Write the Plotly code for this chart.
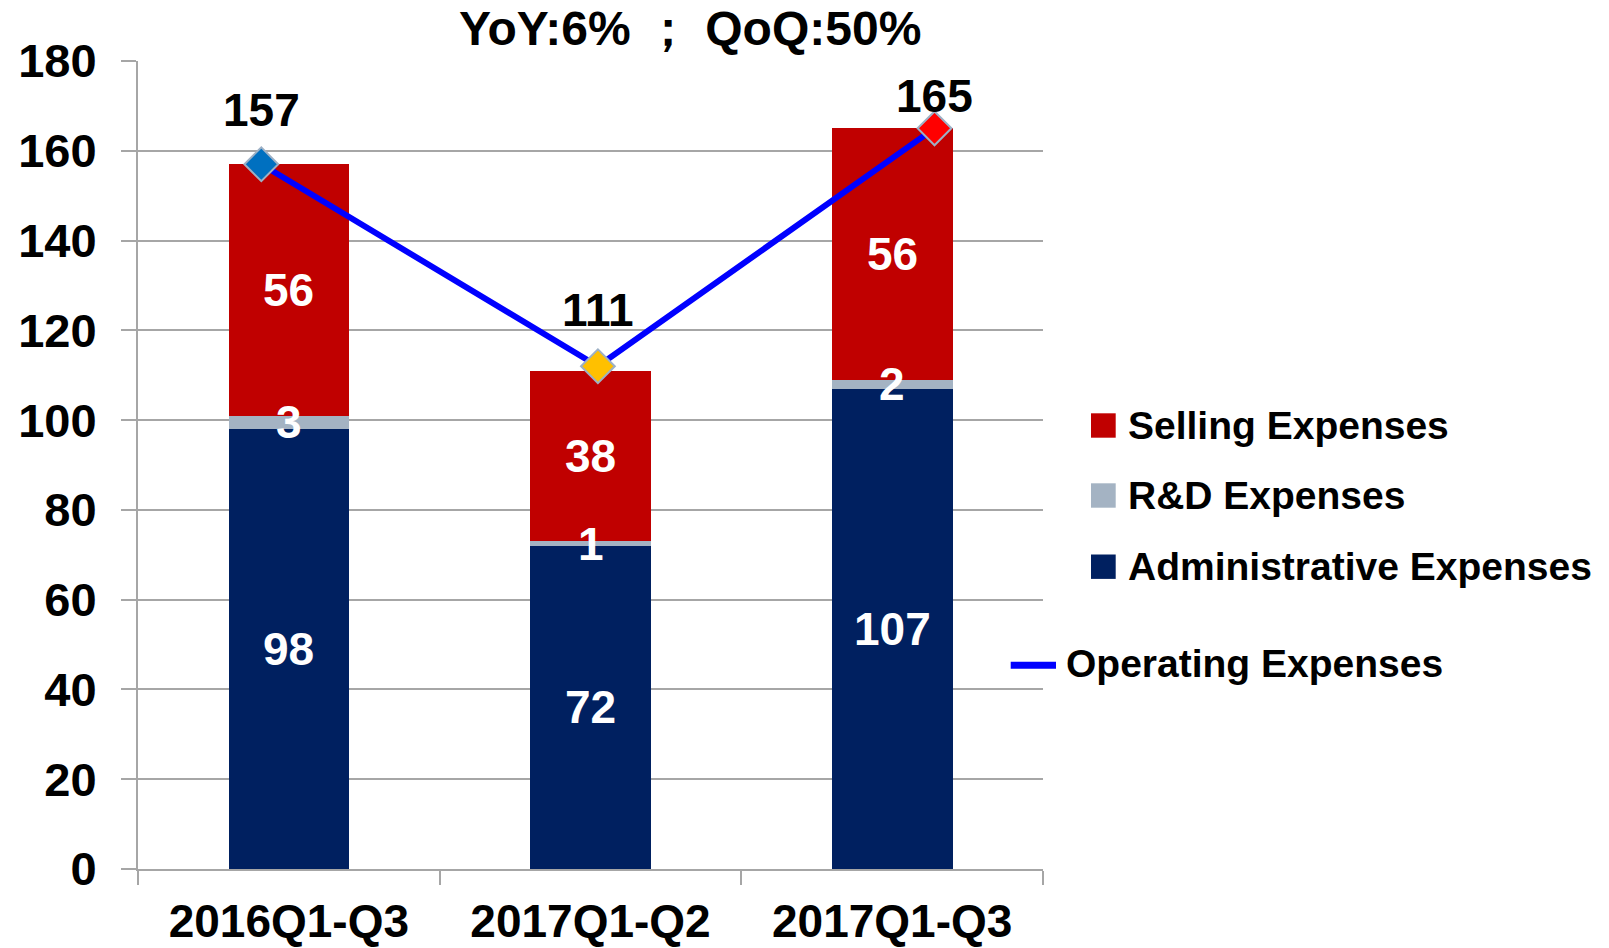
import plotly.graph_objects as go

# ---------------- data ----------------
categories = ["2016Q1-Q3", "2017Q1-Q2", "2017Q1-Q3"]
admin = [98, 72, 107]
rnd = [3, 1, 2]
selling = [56, 38, 56]
opex = [157, 112, 165]
opex_labels = ["157", "111", "165"]
y_ticks = [0, 20, 40, 60, 80, 100, 120, 140, 160, 180]
title_text = "YoY:6% ； QoQ:50%"

# ---------------- styles ----------------
W, H = 1609, 948
ML, MR, MT, MB = 138, 566, 61, 79
PW, PH = W - ML - MR, H - MT - MB
FONT = "Liberation Sans, Arial, sans-serif"
C_SELL, C_RND, C_ADMIN = "#C00000", "#A4B3C3", "#002060"
C_LINE = "#0000FF"
GRID = "#A6A6A6"
marker_colors = ["#0070C0", "#FFC000", "#FF0000"]
label_shift = [54, 56, 32]


def px_x(px):
    return (px - ML) / PW


def px_y(py):
    return (H - MB - py) / PH


fig = go.Figure()
for name, vals, col in [("Administrative Expenses", admin, C_ADMIN),
                        ("R&D Expenses", rnd, C_RND),
                        ("Selling Expenses", selling, C_SELL)]:
    fig.add_trace(go.Bar(x=categories, y=vals, name=name, marker_color=col,
                         marker_line_width=0, width=0.4, showlegend=False,
                         hoverinfo="skip"))

fig.add_trace(go.Scatter(x=categories, y=opex, xaxis="x2", yaxis="y",
                         mode="lines+markers", name="Operating Expenses",
                         line=dict(color=C_LINE, width=6),
                         marker=dict(symbol="diamond", size=26, color=marker_colors,
                                     line=dict(color="#9DB0C5", width=2)),
                         showlegend=False, hoverinfo="skip"))

annotations = []
# segment labels (centered in each stacked segment)
for i, cat in enumerate(categories):
    base = 0
    for vals in (admin, rnd, selling):
        annotations.append(dict(x=cat, y=base + vals[i] / 2, xref="x", yref="y",
                                text=str(vals[i]), showarrow=False,
                                font=dict(family=FONT, size=46, color="white", weight="bold")))
        base += vals[i]
# line labels
for i, cat in enumerate(categories):
    annotations.append(dict(x=cat, y=opex[i], xref="x2", yref="y", text=opex_labels[i],
                            showarrow=False, yshift=label_shift[i],
                            font=dict(family=FONT, size=46, color="black", weight="bold")))
# title
annotations.append(dict(x=px_x(690), y=px_y(29), xref="paper", yref="paper",
                        text=title_text, showarrow=False, xanchor="center", yanchor="middle",
                        font=dict(family=FONT, size=48, color="black", weight="bold")))

# manual legend
legend_items = [("Selling Expenses", C_SELL, 425.5),
                ("R&D Expenses", C_RND, 495.5),
                ("Administrative Expenses", C_ADMIN, 566.7)]
shapes = []
for txt, col, yc in legend_items:
    shapes.append(dict(type="rect", xref="paper", yref="paper",
                       x0=px_x(1091), x1=px_x(1115.7), y0=px_y(yc - 12.2), y1=px_y(yc + 12.2),
                       fillcolor=col, line=dict(width=0)))
    annotations.append(dict(x=px_x(1126), y=px_y(yc), xref="paper", yref="paper", text=txt,
                            showarrow=False, xanchor="left", yanchor="middle",
                            font=dict(family=FONT, size=39, color="black", weight="bold")))
shapes.append(dict(type="line", xref="paper", yref="paper",
                   x0=px_x(1010.7), x1=px_x(1056), y0=px_y(665.3), y1=px_y(665.3),
                   line=dict(color=C_LINE, width=7)))
annotations.append(dict(x=px_x(1064), y=px_y(663), xref="paper", yref="paper",
                        text="Operating Expenses", showarrow=False, xanchor="left", yanchor="middle",
                        font=dict(family=FONT, size=39, color="black", weight="bold")))

fig.update_layout(
    width=W, height=H,
    margin=dict(l=ML, r=MR, t=MT, b=MB, pad=0, autoexpand=False),
    paper_bgcolor="white", plot_bgcolor="white",
    barmode="stack",
    showlegend=False,
    font=dict(family=FONT, color="black"),
    xaxis=dict(type="category", range=[-0.5, 2.5], showgrid=False, showline=True,
               linecolor=GRID, linewidth=2, ticks="outside", tickson="boundaries",
               ticklen=14, tickwidth=2, tickcolor=GRID, ticklabelstandoff=11,
               automargin=False,
               tickfont=dict(family=FONT, size=46, color="black", weight="bold")),
    xaxis2=dict(type="category", overlaying="x", range=[-0.3663, 2.3223], visible=False,
                automargin=False),
    yaxis=dict(range=[0, 180], tickvals=y_ticks, showgrid=True, gridcolor=GRID, gridwidth=2,
               zeroline=False, showline=True, linecolor=GRID, linewidth=2,
               ticks="outside", ticklen=15, tickwidth=2, tickcolor=GRID, ticklabelstandoff=15,
               automargin=False,
               tickfont=dict(family=FONT, size=47, color="black", weight="bold")),
    annotations=annotations,
    shapes=shapes,
)

fig.write_html(
    "out.html",
    config={"displayModeBar": False},
    post_script="document.body.style.margin='0';document.body.style.overflow='hidden';",
)
